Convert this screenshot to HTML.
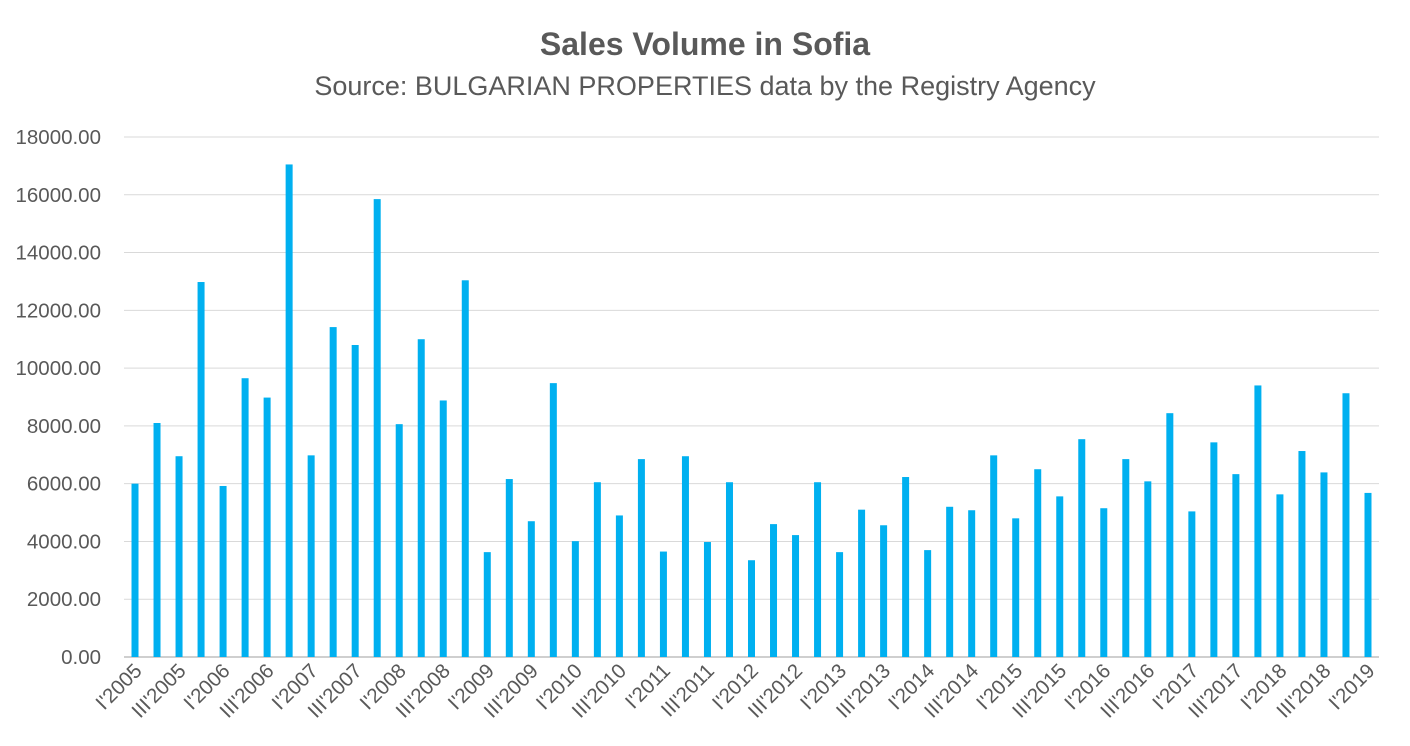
<!DOCTYPE html>
<html><head><meta charset="utf-8"><style>
body{margin:0;background:#fff}
svg{display:block;font-family:"Liberation Sans",sans-serif}
</style></head><body>
<svg width="1410" height="746" xmlns="http://www.w3.org/2000/svg">
<rect width="1410" height="746" fill="#fff"/>
<text x="705" y="55" text-anchor="middle" font-size="32" font-weight="bold" fill="#595959">Sales Volume in Sofia</text>
<text x="705" y="95" text-anchor="middle" font-size="27" fill="#595959">Source: BULGARIAN PROPERTIES data by the Registry Agency</text>
<g id="g"></g>
</svg>
<script>
const vals=[6000,8100,6950,12980,5920,9650,8980,17050,6980,11420,10800,15850,8060,11000,8880,13040,3630,6160,4700,9480,4010,6050,4900,6850,3650,6950,3980,6050,3350,4600,4220,6050,3630,5100,4560,6230,3700,5200,5080,6980,4800,6500,5560,7540,5150,6850,6080,8440,5040,7430,6330,9400,5630,7130,6390,9130,5680];
const g=document.getElementById('g');let s='';
const y0=657,k=520/18000,L=124,R=1379,w=(R-L)/57;
for(let i=0;i<=9;i++){const y=y0-i*2000*k;
s+=`<line x1="${L}" x2="${R}" y1="${y}" y2="${y}" stroke="${i?'#d9d9d9':'#bfbfbf'}" stroke-width="${i?1:1.5}"/>`;
s+=`<text x="101" y="${y+7}" text-anchor="end" font-size="20.5" fill="#595959">${(i*2000).toFixed(2)}</text>`;}
const rn=['I','II','III','IV'];
vals.forEach((v,i)=>{const cx=L+w*(i+0.5);const h=v*k;
s+=`<rect x="${cx-3.5}" y="${y0-h}" width="7" height="${h}" fill="#00b0f0"/>`;
if(i%2==0){const lab=rn[i%4]+"'"+(2005+Math.floor(i/4));
s+=`<text transform="translate(${cx+8},${672}) rotate(-45)" text-anchor="end" font-size="20.5" fill="#595959">${lab}</text>`;}});
g.innerHTML=s;
</script>
</body></html>
